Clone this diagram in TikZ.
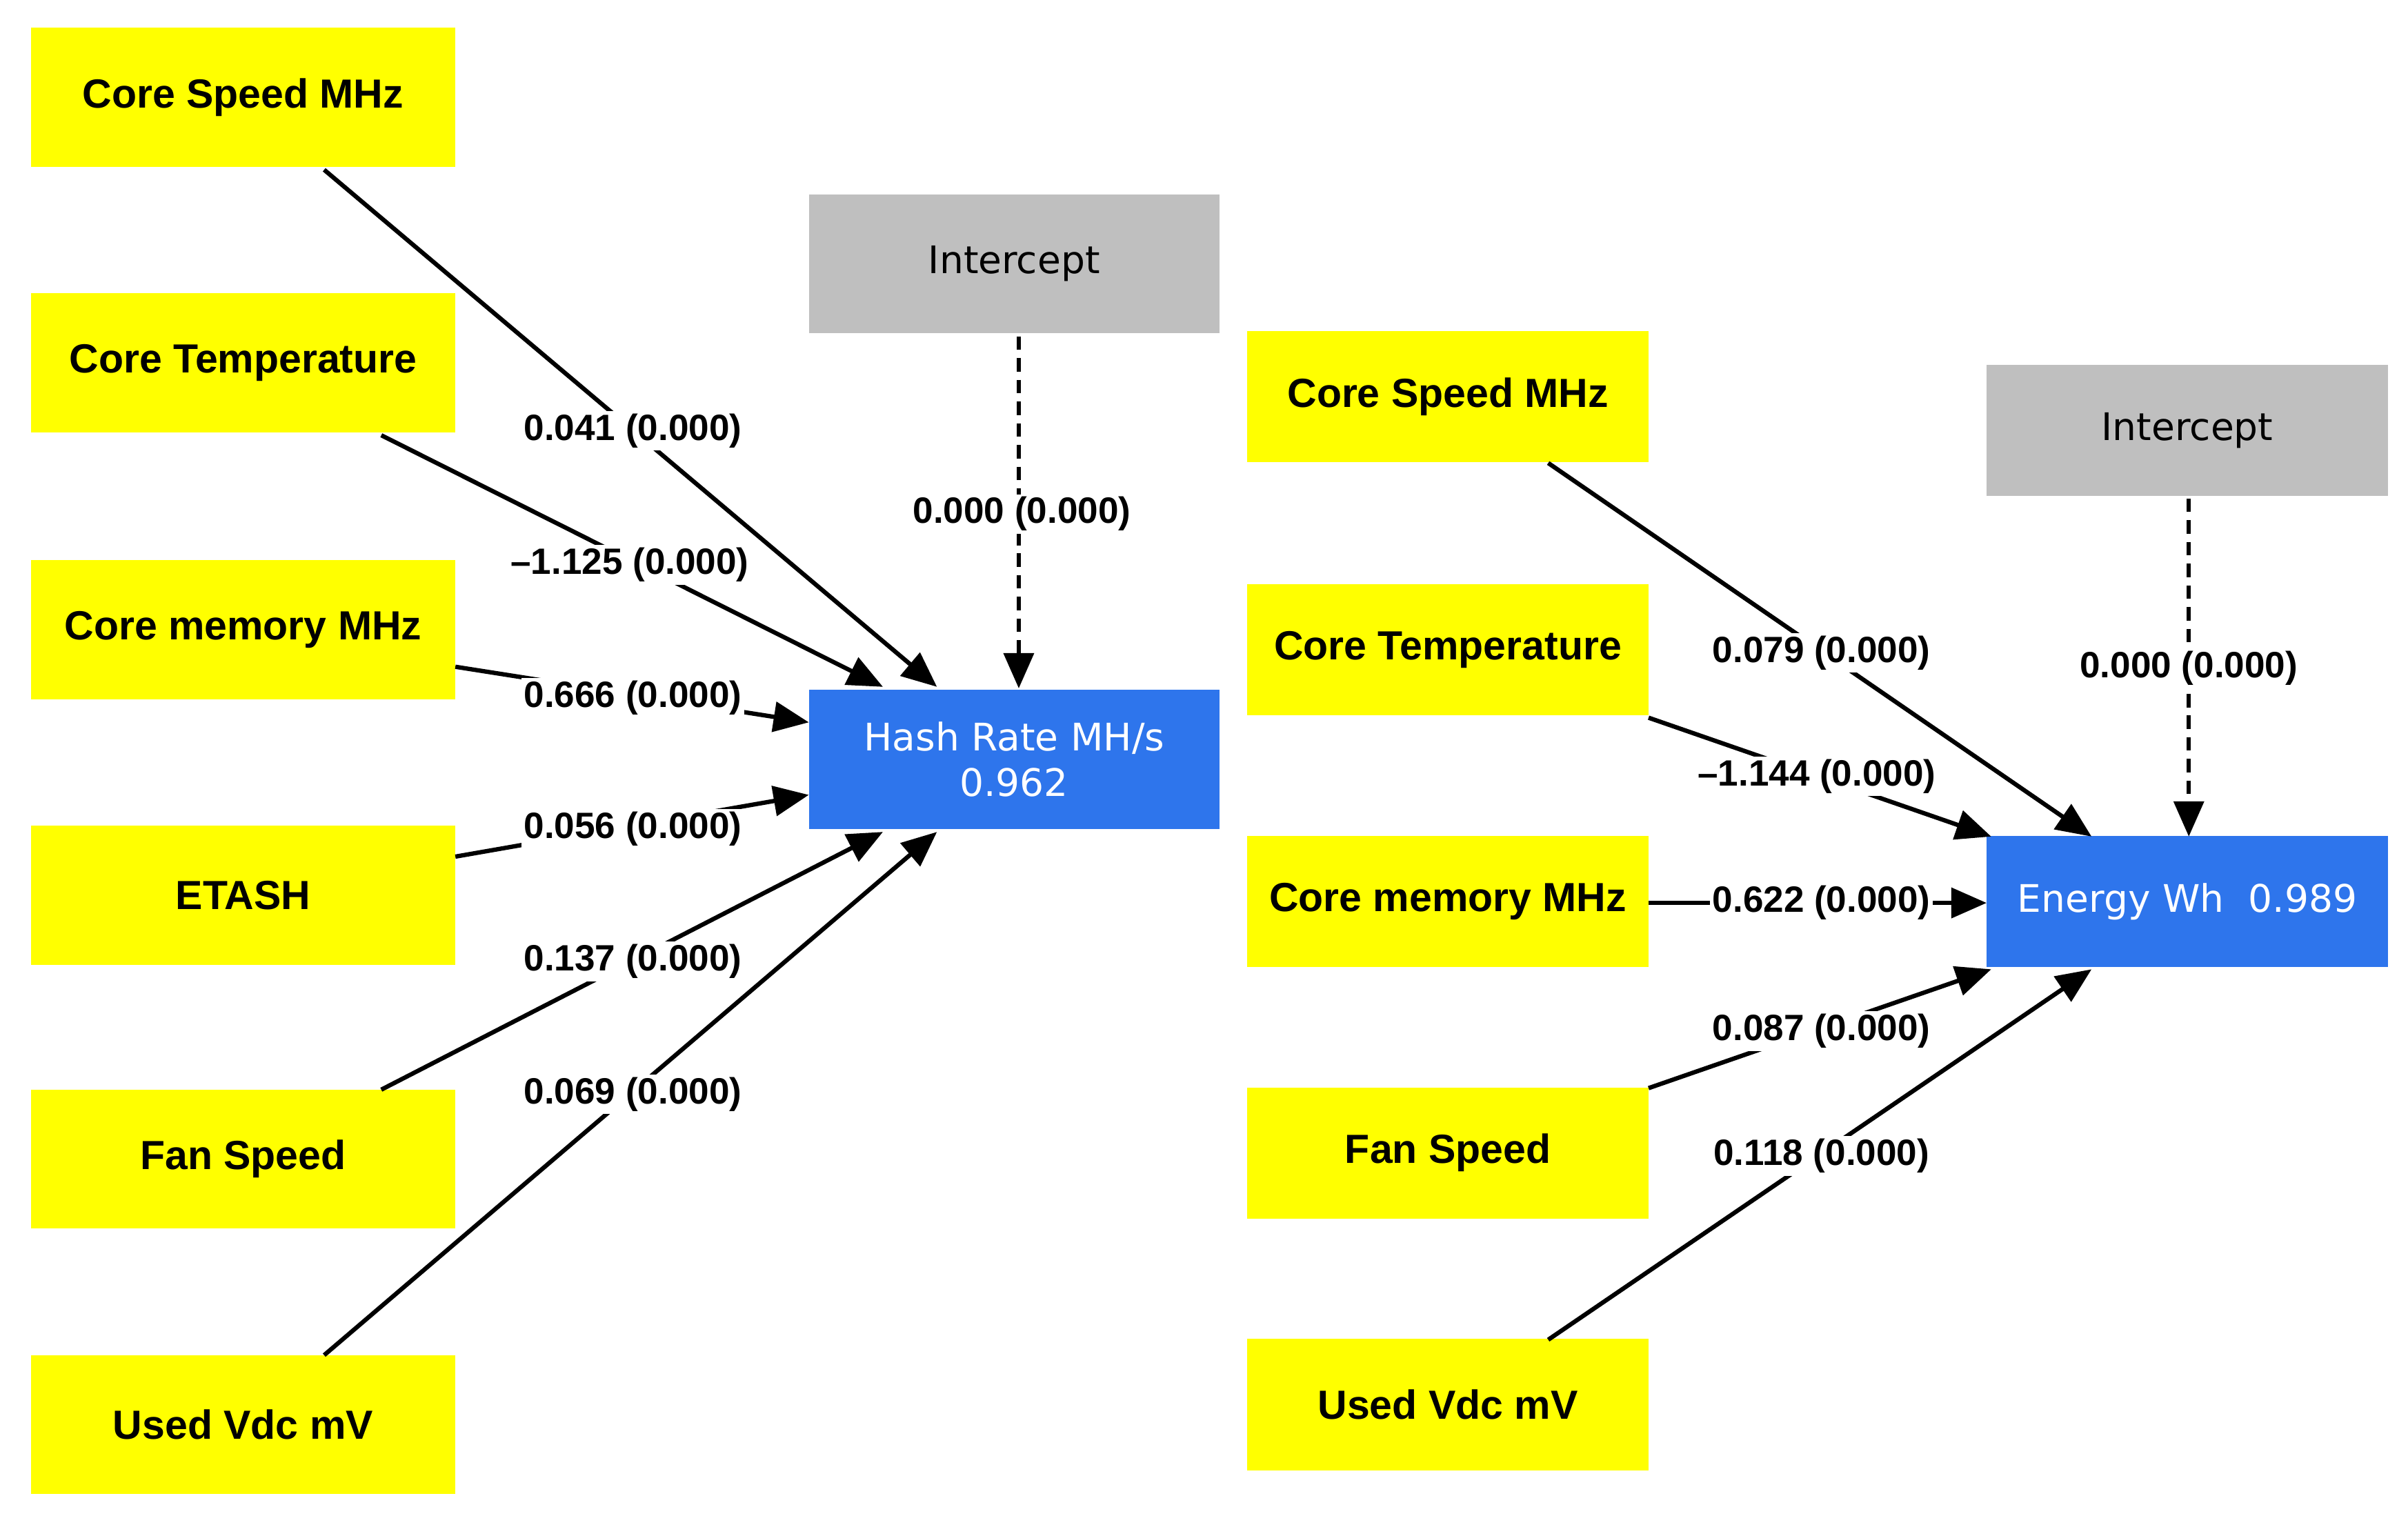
\documentclass[tikz,border=0pt]{standalone}
\usepackage{fontspec}
\setmainfont{Liberation Sans}
\newfontfamily\vfont{DejaVu Sans}
\usetikzlibrary{arrows.meta}
\definecolor{yel}{RGB}{255,255,0}
\definecolor{grayb}{RGB}{191,191,191}
\definecolor{blu}{RGB}{46,117,236}
\begin{document}
\begin{tikzpicture}[x=0.02cm,y=-0.02cm,
 ybox/.style={fill=yel,draw=none,inner sep=0,font=\fontsize{15}{18}\selectfont\bfseries},
 gbox/.style={fill=grayb,draw=none,inner sep=0,font=\vfont\fontsize{14}{17}\selectfont},
 bbox/.style={fill=blu,draw=none,inner sep=0,text=white,align=center,font=\vfont\fontsize{14}{17}\selectfont},
 lab/.style={fill=white,inner sep=1pt,font=\fontsize{13.5}{16}\selectfont\bfseries},
 arr/.style={line width=1.6pt,-{Triangle[length=13pt,width=11pt]}},
 darr/.style={arr,dashed,dash pattern=on 5pt off 3pt}]
\useasboundingbox (0,0) rectangle (1560,982);
\newcommand{\yb}[5]{\node[ybox,minimum width=#3*0.02cm,minimum height=#4*0.02cm] (#5) at (#1,#2) {};}
% left boxes
\node[ybox,minimum width=5.5cm,minimum height=1.8cm] (l1) at (157.5,63) {Core Speed MHz};
\node[ybox,minimum width=5.5cm,minimum height=1.8cm] (l2) at (157.5,235) {Core Temperature};
\node[ybox,minimum width=5.5cm,minimum height=1.8cm] (l3) at (157.5,408) {Core memory MHz};
\node[ybox,minimum width=5.5cm,minimum height=1.8cm] (l4) at (157.5,580) {ETASH};
\node[ybox,minimum width=5.5cm,minimum height=1.8cm] (l5) at (157.5,751) {Fan Speed};
\node[ybox,minimum width=5.5cm,minimum height=1.8cm] (l6) at (157.5,923) {Used Vdc mV};
\node[gbox,minimum width=5.32cm,minimum height=1.8cm] (li) at (657,171) {Intercept};
\node[bbox,minimum width=5.32cm,minimum height=1.8cm] (hr) at (657,492) {Hash Rate MH/s\\0.962};
% right boxes
\node[ybox,minimum width=5.2cm,minimum height=1.7cm] (r1) at (938,257) {Core Speed MHz};
\node[ybox,minimum width=5.2cm,minimum height=1.7cm] (r2) at (938,421) {Core Temperature};
\node[ybox,minimum width=5.2cm,minimum height=1.7cm] (r3) at (938,584) {Core memory MHz};
\node[ybox,minimum width=5.2cm,minimum height=1.7cm] (r5) at (938,747) {Fan Speed};
\node[ybox,minimum width=5.2cm,minimum height=1.7cm] (r6) at (938,910) {Used Vdc mV};
\node[gbox,minimum width=5.2cm,minimum height=1.7cm] (ri) at (1417,279) {Intercept};
\node[bbox,minimum width=5.2cm,minimum height=1.7cm] (en) at (1417,584) {Energy Wh\ \ 0.989};
% endpoints
\coordinate (a1) at (210,110); \coordinate (b1) at (607,445);
\coordinate (a2) at (247,282); \coordinate (b2) at (572,445);
\coordinate (a3) at (295,432); \coordinate (b3) at (524,468);
\coordinate (a4) at (295,555); \coordinate (b4) at (524,515);
\coordinate (a5) at (247,706); \coordinate (b5) at (572,539);
\coordinate (a6) at (210,878); \coordinate (b6) at (607,539);
\coordinate (ai) at (660,218); \coordinate (bi) at (660,446);
\coordinate (c1) at (1003,300); \coordinate (d1) at (1355,542);
\coordinate (c2) at (1068,465); \coordinate (d2) at (1290,542);
\coordinate (c3) at (1068,585); \coordinate (d3) at (1287,585);
\coordinate (c5) at (1068,705); \coordinate (d5) at (1290,628);
\coordinate (c6) at (1003,868); \coordinate (d6) at (1355,628);
\coordinate (ci) at (1418,323); \coordinate (di) at (1418,542);
\draw[arr] (a1) -- (b1); \draw[arr] (a2) -- (b2); \draw[arr] (a3) -- (b3);
\draw[arr] (a4) -- (b4); \draw[arr] (a5) -- (b5); \draw[arr] (a6) -- (b6);
\draw[darr] (ai) -- (bi);
\draw[arr] (c1) -- (d1); \draw[arr] (c2) -- (d2); \draw[arr] (c3) -- (d3);
\draw[arr] (c5) -- (d5); \draw[arr] (c6) -- (d6); \draw[darr] (ci) -- (di);
% labels
\node[lab] (t1) at (410,279) {0.041 (0.000)};
\node[lab] (t2) at (408,366) {\textendash1.125 (0.000)};
\node[lab] (t3) at (410,452) {0.666 (0.000)};
\node[lab] (t4) at (410,537) {0.056 (0.000)};
\node[lab] (t5) at (410,623) {0.137 (0.000)};
\node[lab] (t6) at (410,709) {0.069 (0.000)};
\node[lab] (ti) at (662,333) {0.000 (0.000)};
\node[lab] (s1) at (1180,423) {0.079 (0.000)};
\node[lab] (s2) at (1177,503) {\textendash1.144 (0.000)};
\node[lab] (s3) at (1180,585) {0.622 (0.000)};
\node[lab] (s5) at (1180,668) {0.087 (0.000)};
\node[lab] (s6) at (1180,749) {0.118 (0.000)};
\node[lab] (si) at (1418,433) {0.000 (0.000)};
\end{tikzpicture}
\end{document}
